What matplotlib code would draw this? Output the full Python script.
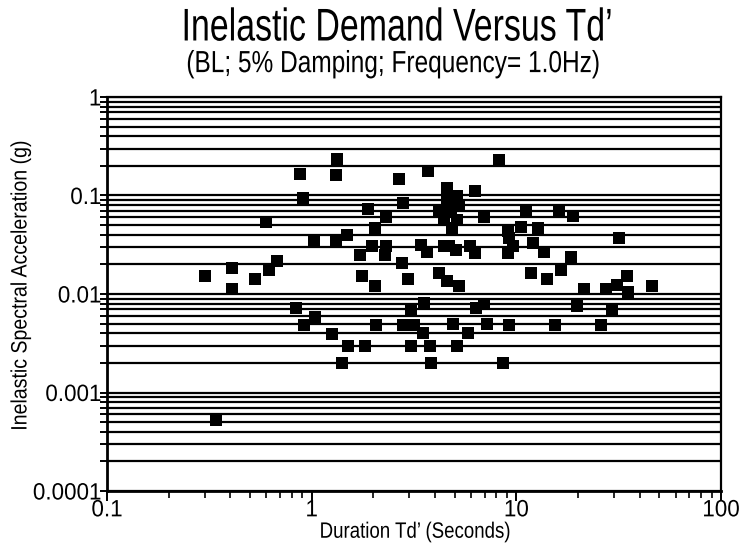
import matplotlib.pyplot as plt
import numpy as np
from matplotlib.patheffects import AbstractPathEffect
from matplotlib.ticker import LogLocator, NullFormatter, FixedLocator, FixedFormatter
from matplotlib.transforms import Affine2D

# -----------------------------------
# DATA
# -----------------------------------

duration = [
    0.30, 0.41, 0.41, 0.34, 0.53, 0.62, 0.68, 0.60, 0.88, 0.91,
    0.84, 1.03, 1.04, 0.92, 1.26, 1.33, 1.31, 1.32, 1.48, 1.50,
    1.41, 1.73, 1.77, 1.83, 1.89, 1.98, 2.31, 2.28, 2.05, 2.03,
    2.30, 2.06, 2.67, 2.79, 2.76, 2.96, 3.44, 3.64, 3.06, 3.52,
    2.81, 3.18, 3.49, 3.06, 3.77, 3.84, 3.69, 4.58, 6.31, 4.56,
    5.15, 4.21, 4.82, 5.27, 4.45, 5.15, 4.87, 4.41, 4.71, 5.10,
    5.97, 6.31, 4.21, 4.58, 5.24, 4.89, 5.13, 5.79, 6.36, 6.98,
    7.22, 6.98, 8.20, 8.57, 9.25, 9.14, 9.25, 9.67, 9.14, 10.5,
    11.2, 11.8, 12.0, 12.8, 13.7, 14.2, 15.5, 16.2, 16.5, 18.5,
    19.0, 19.9, 21.5, 25.9, 27.3, 29.5, 30.9, 31.8, 34.9, 35.2,
    46.2,
]

accel = [
    0.0152, 0.0182, 0.0112, 0.00053, 0.0141, 0.0175, 0.0214, 0.054, 0.167, 0.094,
    0.0072, 0.035, 0.0059, 0.0048, 0.0039, 0.233, 0.161, 0.034, 0.040, 0.0030,
    0.0020, 0.025, 0.0152, 0.0030, 0.0735, 0.031, 0.031, 0.025, 0.012, 0.047,
    0.060, 0.0048, 0.147, 0.083, 0.0205, 0.0141, 0.0314, 0.0267, 0.0071, 0.0081,
    0.0048, 0.0048, 0.0040, 0.0030, 0.0030, 0.0020, 0.176, 0.120, 0.110, 0.094,
    0.099, 0.071, 0.068, 0.080, 0.059, 0.056, 0.047, 0.031, 0.031, 0.028,
    0.031, 0.026, 0.0163, 0.0136, 0.012, 0.0050, 0.0030, 0.0040, 0.0072, 0.0079,
    0.0050, 0.060, 0.229, 0.0020, 0.0049, 0.044, 0.037, 0.031, 0.026, 0.048,
    0.071, 0.0163, 0.033, 0.047, 0.027, 0.0141, 0.0049, 0.071, 0.0175, 0.0238,
    0.062, 0.0076, 0.0112, 0.0049, 0.0113, 0.0071, 0.0123, 0.037, 0.0152, 0.0104,
    0.012,
]

x_ticks = [0.1, 1, 10, 100]
x_tick_labels = ["0.1", "1", "10", "100"]
y_ticks = [0.0001, 0.001, 0.01, 0.1, 1]
y_tick_labels = ["0.0001", "0.001", "0.01", "0.1", "1"]

title = "Inelastic Demand Versus Td\u2019"
subtitle = "(BL; 5% Damping; Frequency= 1.0Hz)"
x_label = "Duration Td\u2019 (Seconds)"
y_label = "Inelastic Spectral Acceleration (g)"


# -----------------------------------
# CONDENSED LOOK
# (no narrow font installed, so squeeze
#  the glyph outlines at draw time)
# -----------------------------------

class Squeeze(AbstractPathEffect):

    def __init__(self, sx=1.0, sy=1.0, anchor="center"):
        super().__init__()
        self.sx = sx
        self.sy = sy
        self.anchor = anchor

    def draw_path(self, renderer, gc, tpath, affine, rgbFace=None):
        bb = tpath.get_extents(affine)
        if self.anchor == "right":
            cx = bb.x1
        elif self.anchor == "left":
            cx = bb.x0
        else:
            cx = 0.5 * (bb.x0 + bb.x1)
        cy = 0.5 * (bb.y0 + bb.y1)
        squeeze = (
            Affine2D()
            .translate(-cx, -cy)
            .scale(self.sx, self.sy)
            .translate(cx, cy)
        )
        renderer.draw_path(gc, tpath, affine + squeeze, rgbFace)


# -----------------------------------
# FIGURE
# -----------------------------------

plt.rcParams["font.family"] = ["Liberation Sans", "DejaVu Sans"]

fig = plt.figure(figsize=(7.41, 5.48), dpi=100)
ax = fig.add_axes([0.1444, 0.104, 0.8286, 0.719])

# -----------------------------------
# SCALES + GRID
# -----------------------------------

ax.set_xscale("log")
ax.set_yscale("log")
ax.set_xlim(0.1, 100)
ax.set_ylim(0.0001, 1)

ax.yaxis.set_minor_locator(LogLocator(base=10, subs=np.arange(2, 10)))
ax.xaxis.set_minor_locator(LogLocator(base=10, subs=np.arange(2, 10)))
ax.yaxis.set_minor_formatter(NullFormatter())
ax.xaxis.set_minor_formatter(NullFormatter())

ax.grid(True, which="both", axis="y", color="black", linewidth=1.6)
ax.grid(False, axis="x", which="both")
ax.set_axisbelow(True)

# -----------------------------------
# POINTS
# -----------------------------------

ax.scatter(
    duration,
    accel,
    marker="s",
    s=64,
    color="black",
    linewidths=0,
    zorder=3
)

# -----------------------------------
# AXES STYLE
# -----------------------------------

for side in ["left", "bottom"]:
    ax.spines[side].set_linewidth(2.0)
for side in ["right", "top"]:
    ax.spines[side].set_linewidth(1.6)

ax.xaxis.set_major_locator(FixedLocator(x_ticks))
ax.xaxis.set_major_formatter(FixedFormatter(x_tick_labels))
ax.yaxis.set_major_locator(FixedLocator(y_ticks))
ax.yaxis.set_major_formatter(FixedFormatter(y_tick_labels))

ax.tick_params(axis="y", which="both", direction="inout", length=10, width=1.4,
               labelsize=17, pad=-1)
ax.tick_params(axis="x", which="major", direction="out", length=7, width=1.4,
               labelsize=17, pad=-1)
ax.tick_params(axis="x", which="minor", direction="out", length=5, width=1.2)

for lbl in ax.get_yticklabels():
    lbl.set_path_effects([Squeeze(sx=0.95, anchor="right")])
for lbl in ax.get_xticklabels():
    lbl.set_path_effects([Squeeze(sx=0.95)])

# -----------------------------------
# AXIS LABELS
# -----------------------------------

ax.set_xlabel(x_label, fontsize=16)
ax.xaxis.set_label_coords(0.502, -0.078)
ax.xaxis.label.set_path_effects([Squeeze(sx=0.84)])

ax.set_ylabel(y_label, fontsize=16)
ax.yaxis.set_label_coords(-0.123, 0.523)
ax.yaxis.label.set_path_effects([Squeeze(sy=0.88)])

# -----------------------------------
# TITLES
# -----------------------------------

fig.text(0.536, 0.948, title, ha="center", va="center", fontsize=33,
         path_effects=[Squeeze(sx=0.74)])
fig.text(0.530, 0.883, subtitle, ha="center", va="center", fontsize=22,
         path_effects=[Squeeze(sx=0.80)])

fig.savefig("out.png", dpi=100)
